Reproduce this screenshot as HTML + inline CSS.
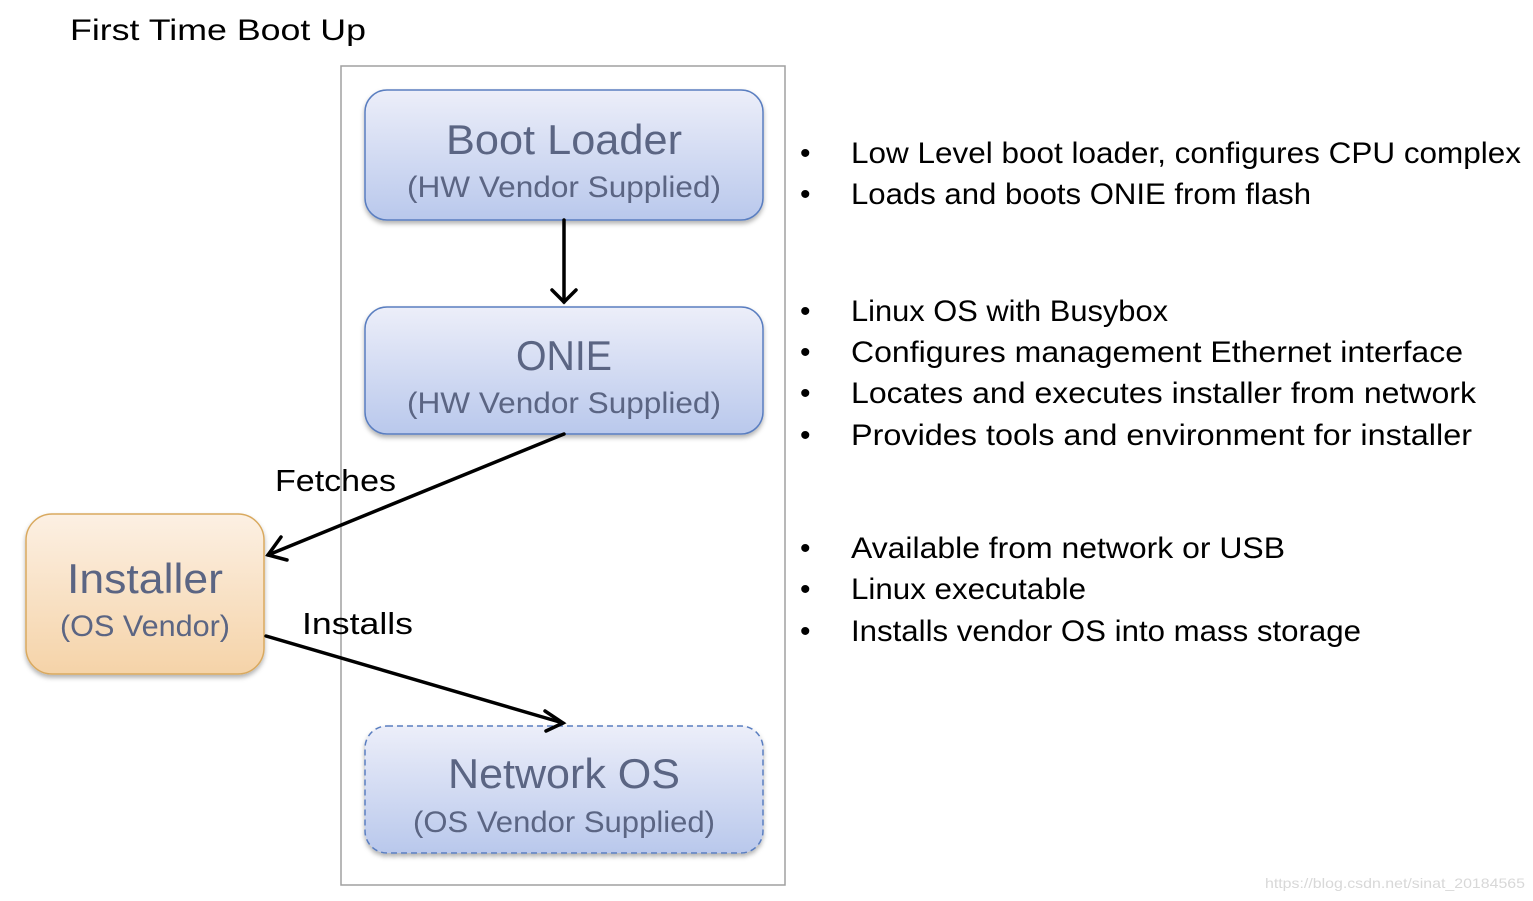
<!DOCTYPE html>
<html><head><meta charset="utf-8"><style>
html,body{margin:0;padding:0;background:#fff;}
svg{display:block;font-family:"Liberation Sans",sans-serif;}
</style></head><body>
<svg width="1533" height="901" viewBox="0 0 1533 901">
<defs>
<linearGradient id="bl" x1="0" y1="0" x2="0" y2="1"><stop offset="0" stop-color="#eceef9"/><stop offset="1" stop-color="#b9c8ec"/></linearGradient>
<linearGradient id="or" x1="0" y1="0" x2="0" y2="1"><stop offset="0" stop-color="#fcf0e3"/><stop offset="1" stop-color="#f5d3a8"/></linearGradient>
<filter id="sh" x="-10%" y="-10%" width="120%" height="130%"><feDropShadow dx="0" dy="3" stdDeviation="2.5" flood-color="#000" flood-opacity="0.3"/></filter>
</defs>
<text x="70" y="40" font-size="30" textLength="296" lengthAdjust="spacingAndGlyphs">First Time Boot Up</text>
<rect x="341" y="66" width="444" height="819" fill="none" stroke="#a0a0a0" stroke-width="1.5"/>
<g filter="url(#sh)">
<rect x="365" y="90" width="398" height="130" rx="22" fill="url(#bl)" stroke="#5a7ec0" stroke-width="1.5"/>
<rect x="365" y="307" width="398" height="127" rx="22" fill="url(#bl)" stroke="#5a7ec0" stroke-width="1.5"/>
<rect x="26" y="514" width="238" height="160" rx="26" fill="url(#or)" stroke="#d9a95e" stroke-width="1.5"/>
<rect x="365" y="726" width="398" height="127" rx="22" fill="url(#bl)" stroke="#5a7ec0" stroke-width="1.5" stroke-dasharray="6,4"/>
</g>
<g fill="#5b6583" text-anchor="middle">
<text x="564" y="154" font-size="42" textLength="236" lengthAdjust="spacingAndGlyphs">Boot Loader</text>
<text x="564" y="197" font-size="30" textLength="314" lengthAdjust="spacingAndGlyphs">(HW Vendor Supplied)</text>
<text x="564" y="370" font-size="42" textLength="96" lengthAdjust="spacingAndGlyphs">ONIE</text>
<text x="564" y="413" font-size="30" textLength="314" lengthAdjust="spacingAndGlyphs">(HW Vendor Supplied)</text>
<text x="145" y="593" font-size="42" textLength="156" lengthAdjust="spacingAndGlyphs">Installer</text>
<text x="145" y="636" font-size="30" textLength="170" lengthAdjust="spacingAndGlyphs">(OS Vendor)</text>
<text x="564" y="788" font-size="42" textLength="232" lengthAdjust="spacingAndGlyphs">Network OS</text>
<text x="564" y="832" font-size="30" textLength="302" lengthAdjust="spacingAndGlyphs">(OS Vendor Supplied)</text>
</g>
<g stroke="#000" stroke-width="3.5" fill="none" stroke-linecap="round">
<line x1="564" y1="220" x2="564" y2="302"/>
<polyline points="552,290 564,302 576,290"/>
<line x1="564" y1="434" x2="268" y2="555"/>
<polyline points="281,537 268,555 287,560"/>
<line x1="266" y1="636" x2="563" y2="723"/>
<polyline points="545,711 563,723 546,731"/>
</g>
<text x="275" y="491" font-size="31" textLength="121" lengthAdjust="spacingAndGlyphs">Fetches</text>
<text x="302" y="634" font-size="31" textLength="111" lengthAdjust="spacingAndGlyphs">Installs</text>
<g font-size="30">
<text x="800" y="163">•</text><text x="851" y="163" textLength="670" lengthAdjust="spacingAndGlyphs">Low Level boot loader, configures CPU complex</text>
<text x="800" y="204">•</text><text x="851" y="204" textLength="460" lengthAdjust="spacingAndGlyphs">Loads and boots ONIE from flash</text>
<text x="800" y="321">•</text><text x="851" y="321" textLength="317" lengthAdjust="spacingAndGlyphs">Linux OS with Busybox</text>
<text x="800" y="362">•</text><text x="851" y="362" textLength="612" lengthAdjust="spacingAndGlyphs">Configures management Ethernet interface</text>
<text x="800" y="403">•</text><text x="851" y="403" textLength="625" lengthAdjust="spacingAndGlyphs">Locates and executes installer from network</text>
<text x="800" y="445">•</text><text x="851" y="445" textLength="621" lengthAdjust="spacingAndGlyphs">Provides tools and environment for installer</text>
<text x="800" y="558">•</text><text x="851" y="558" textLength="434" lengthAdjust="spacingAndGlyphs">Available from network or USB</text>
<text x="800" y="599">•</text><text x="851" y="599" textLength="235" lengthAdjust="spacingAndGlyphs">Linux executable</text>
<text x="800" y="641">•</text><text x="851" y="641" textLength="510" lengthAdjust="spacingAndGlyphs">Installs vendor OS into mass storage</text>
</g>
<text x="1265" y="888" font-size="14" fill="#d8d8d8" textLength="260" lengthAdjust="spacingAndGlyphs">https://blog.csdn.net/sinat_20184565</text>
</svg>
</body></html>
